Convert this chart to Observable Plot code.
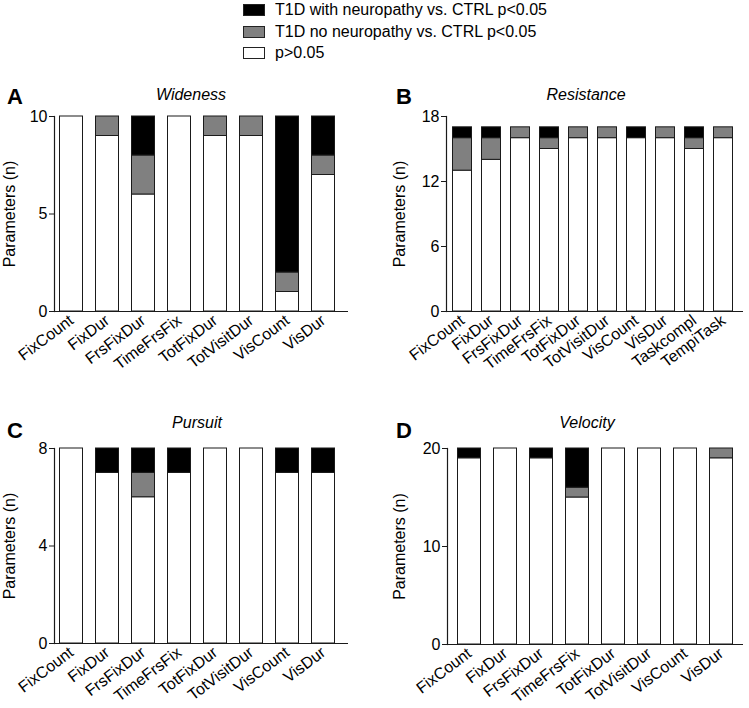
<!DOCTYPE html>
<html>
<head>
<meta charset="utf-8">
<script src="https://cdn.jsdelivr.net/npm/d3@7"></script>
<script src="https://cdn.jsdelivr.net/npm/@observablehq/plot@0.6"></script>
<style>
  body { margin: 0; background: #fff; font-family: "Liberation Sans", Arial, sans-serif; color: #000; }
  #root { position: relative; width: 749px; height: 708px; overflow: hidden; background: #fff; }
  .abs { position: absolute; }
  .letter { font-weight: bold; font-size: 22px; line-height: 22px; }
  .title { font-style: italic; font-size: 16px; line-height: 16px; transform: translateX(-50%); white-space: nowrap; }
  .sw { position: absolute; left: 243px; width: 20px; height: 10px; border: 1px solid #222; }
  .lt { position: absolute; left: 275px; font-size: 16px; line-height: 16px; white-space: nowrap; }
  #root svg { overflow: visible; }
  #root svg text { font-size: 16px; }
</style>
</head>
<body>
<div id="root">
  <div id="legend"></div>
  <div class="abs letter" style="left:7px;top:86px">A</div>
  <div class="abs title" style="left:191px;top:87px">Wideness</div>
  <div class="abs letter" style="left:396px;top:86px">B</div>
  <div class="abs title" style="left:586px;top:87px">Resistance</div>
  <div class="abs letter" style="left:7px;top:420px">C</div>
  <div class="abs title" style="left:197px;top:415px">Pursuit</div>
  <div class="abs letter" style="left:396px;top:420px">D</div>
  <div class="abs title" style="left:587px;top:415px">Velocity</div>
  <div id="pA" class="abs" style="left:0px;top:80px"></div>
  <div id="pB" class="abs" style="left:375px;top:80px"></div>
  <div id="pC" class="abs" style="left:0px;top:380px"></div>
  <div id="pD" class="abs" style="left:375px;top:380px"></div>
</div>
<script>
// ---- legend / groups ----
const groups = ["p>0.05", "T1D no neuropathy vs. CTRL p<0.05", "T1D with neuropathy vs. CTRL p<0.05"];
const groupColors = ["#ffffff", "#808080", "#000000"];
const legendOrder = [2, 1, 0];

// ---- A: Wideness ----
const widenessParams = ["FixCount", "FixDur", "FrsFixDur", "TimeFrsFix", "TotFixDur", "TotVisitDur", "VisCount", "VisDur"];
const widenessNS      = [10, 9, 6, 10, 9, 9, 1, 7];
const widenessNoNeuro = [0, 1, 2, 0, 1, 1, 1, 1];
const widenessNeuro   = [0, 0, 2, 0, 0, 0, 8, 2];
const widenessTicks   = [0, 5, 10];

// ---- B: Resistance ----
const resistanceParams = ["FixCount", "FixDur", "FrsFixDur", "TimeFrsFix", "TotFixDur", "TotVisitDur", "VisCount", "VisDur", "Taskcompl", "TempiTask"];
const resistanceNS      = [13, 14, 16, 15, 16, 16, 16, 16, 15, 16];
const resistanceNoNeuro = [3, 2, 1, 1, 1, 1, 0, 1, 1, 1];
const resistanceNeuro   = [1, 1, 0, 1, 0, 0, 1, 0, 1, 0];
const resistanceTicks   = [0, 6, 12, 18];

// ---- C: Pursuit ----
const pursuitParams = ["FixCount", "FixDur", "FrsFixDur", "TimeFrsFix", "TotFixDur", "TotVisitDur", "VisCount", "VisDur"];
const pursuitNS      = [8, 7, 6, 7, 8, 8, 7, 7];
const pursuitNoNeuro = [0, 0, 1, 0, 0, 0, 0, 0];
const pursuitNeuro   = [0, 1, 1, 1, 0, 0, 1, 1];
const pursuitTicks   = [0, 4, 8];

// ---- D: Velocity ----
const velocityParams = ["FixCount", "FixDur", "FrsFixDur", "TimeFrsFix", "TotFixDur", "TotVisitDur", "VisCount", "VisDur"];
const velocityNS      = [19, 20, 19, 15, 20, 20, 20, 19];
const velocityNoNeuro = [0, 0, 0, 1, 0, 0, 0, 1];
const velocityNeuro   = [1, 0, 1, 4, 0, 0, 0, 0];
const velocityTicks   = [0, 10, 20];

// legend
const leg = document.getElementById("legend");
legendOrder.forEach((gi, r) => {
  const sw = document.createElement("div");
  sw.className = "sw";
  sw.style.top = (4 + r * 21.5) + "px";
  sw.style.background = groupColors[gi];
  leg.appendChild(sw);
  const t = document.createElement("div");
  t.className = "lt";
  t.style.top = (2 + r * 21.5) + "px";
  t.textContent = groups[gi];
  leg.appendChild(t);
});

function rowsFor(params, ns, no, wi) {
  const rows = [];
  params.forEach((p, i) => {
    [ns[i], no[i], wi[i]].forEach((v, g) => {
      if (v > 0) rows.push({param: p, group: groups[g], n: v});
    });
  });
  return rows;
}

function panel(el, cfg) {
  const rows = rowsFor(cfg.params, cfg.ns, cfg.no, cfg.wi);
  const chart = Plot.plot({
    width: cfg.width,
    height: cfg.height,
    marginLeft: cfg.ml,
    marginRight: cfg.mr,
    marginTop: cfg.mt,
    marginBottom: cfg.mb,
    style: {fontFamily: '"Liberation Sans", Arial, sans-serif', fontSize: "16px", color: "#000", background: "transparent"},
    x: {domain: cfg.params, range: cfg.xr, paddingInner: cfg.pad, paddingOuter: 0, align: 0},
    y: {domain: [0, cfg.ticks[cfg.ticks.length - 1]]},
    color: {domain: groups, range: groupColors},
    marks: [
      Plot.barY(rows, {x: "param", y: "n", fill: "group", stroke: "#1a1a1a", strokeWidth: 1, insetLeft: 0.5, insetRight: 0.5}),
      Plot.ruleY([0], {stroke: "#1a1a1a", strokeWidth: 1.2}),
      Plot.frame({anchor: "left", stroke: "#1a1a1a", strokeWidth: 1.2}),
      Plot.axisY({ticks: cfg.ticks, tickSize: 5, tickPadding: 2, fontSize: 16, stroke: "#1a1a1a",
        label: "Parameters (n)", labelAnchor: "center", labelOffset: cfg.lo, labelArrow: "none"}),
      Plot.axisX({tickRotate: -37, tickSize: 0, tickPadding: 7, fontSize: 16, label: null})
    ]
  });
  document.getElementById(el).appendChild(chart);
}

panel("pA", {params: widenessParams, ns: widenessNS, no: widenessNoNeuro, wi: widenessNeuro, ticks: widenessTicks,
  width: 375, height: 300, ml: 54, mr: 27, mt: 36, mb: 69, xr: [59, 342], pad: 0.34, lo: 51});
panel("pB", {params: resistanceParams, ns: resistanceNS, no: resistanceNoNeuro, wi: resistanceNeuro, ticks: resistanceTicks,
  width: 374, height: 300, ml: 71, mr: 6, mt: 36, mb: 69, xr: [77, 363], pad: 0.325, lo: 53});
panel("pC", {params: pursuitParams, ns: pursuitNS, no: pursuitNoNeuro, wi: pursuitNeuro, ticks: pursuitTicks,
  width: 375, height: 328, ml: 54, mr: 27, mt: 68, mb: 65, xr: [59, 342], pad: 0.34, lo: 51});
panel("pD", {params: velocityParams, ns: velocityNS, no: velocityNoNeuro, wi: velocityNeuro, ticks: velocityTicks,
  width: 374, height: 328, ml: 72, mr: 6, mt: 68, mb: 64, xr: [82, 363], pad: 0.32, lo: 54});
</script>
</body>
</html>
